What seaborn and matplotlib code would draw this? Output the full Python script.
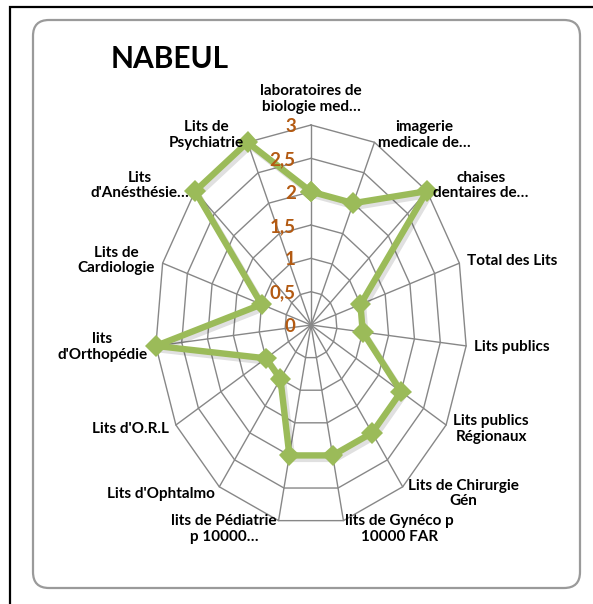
import numpy as np
import pandas as pd
import matplotlib
matplotlib.use("Agg")
import matplotlib.pyplot as plt
import matplotlib.patheffects as pe
from matplotlib.patches import FancyBboxPatch
from matplotlib import font_manager
import seaborn as sns

# Données (NABEUL)
categories = [
    "laboratoires de\nbiologie med…",
    "imagerie\nmedicale de…",
    "chaises\ndentaires de…",
    "Total des Lits",
    "Lits publics",
    "Lits publics\nRégionaux",
    "Lits de Chirurgie\nGén",
    "lits de Gynéco p\n10000 FAR",
    "lits de Pédiatrie\np 10000…",
    "Lits d'Ophtalmo",
    "Lits d'O.R.L",
    "lits\nd'Orthopédie",
    "Lits de\nCardiologie",
    "Lits\nd'Anésthésie…",
    "Lits de\nPsychiatrie",
]
valeurs = [2, 2, 3, 1, 1, 2, 2, 2, 2, 1, 1, 3, 1, 3, 3]
niveaux = [0, 0.5, 1, 1.5, 2, 2.5, 3]
etiquettes_niveaux = ["0", "0,5", "1", "1,5", "2", "2,5", "3"]
titre = "NABEUL"

sns.set_style("white")
noms = {f.name for f in font_manager.fontManager.ttflist}
police = "Lato" if "Lato" in noms else "Liberation Sans"
plt.rcParams["font.family"] = [police, "DejaVu Sans"]
plt.rcParams["text.color"] = "black"

vert = "#9BBB59"
gris = "#878787"
orange = "#B35A12"

W, H = 593, 604
fig = plt.figure(figsize=(W / 100, H / 100), dpi=100)

# cadre de fond (coordonnées en pixels)
fond = fig.add_axes([0, 0, 1, 1])
fond.set_xlim(0, W)
fond.set_ylim(H, 0)
fond.axis("off")
fond.plot([10, 10, W], [H, 7, 7], color="black", lw=1.6, solid_joinstyle="miter")
fond.add_patch(FancyBboxPatch((33, 20), 547, 568, boxstyle="round,pad=0,rounding_size=16",
                              fc="white", ec="#9a9a9a", lw=1.6))
fond.text(111, 68, titre, fontsize=21.5, fontweight="bold", va="baseline", ha="left", color="black")

# radar
n = len(categories)
theta = np.arange(n) * 2 * np.pi / n
theta_ferme = np.append(theta, 2 * np.pi)
cx, cy, rx, ry = 311, 325, 156, 200
ax = fig.add_axes([(cx - rx) / W, (H - cy - ry) / H, 2 * rx / W, 2 * ry / H], projection="polar")
ax.set_aspect("auto")
ax.set_theta_zero_location("N")
ax.set_theta_direction(-1)
ax.set_ylim(0, 3)
ax.grid(False)
ax.spines["polar"].set_visible(False)
ax.set_xticks([])
ax.set_yticks([])
ax.patch.set_visible(False)

for lv in niveaux[1:]:
    ax.plot(theta_ferme, [lv] * (n + 1), color=gris, lw=1.0, clip_on=False, zorder=1)
for t in theta:
    ax.plot([t, t], [0, 3], color=gris, lw=1.0, clip_on=False, zorder=1)

df = pd.DataFrame({"theta": theta_ferme, "valeur": valeurs + valeurs[:1]})
sns.lineplot(data=df, x="theta", y="valeur", ax=ax, sort=False, color=vert, lw=4.6,
             marker="D", markersize=11, markeredgewidth=0, zorder=3)
ligne = ax.lines[-1]
ligne.set_clip_on(False)
ligne.set_path_effects([pe.SimpleLineShadow(offset=(2, -2.5), alpha=0.12, shadow_color="black"),
                        pe.Normal()])
ax.set_xlabel("")
ax.set_ylabel("")
ax.set_ylim(0, 3)

for lv, lab in zip(niveaux, etiquettes_niveaux):
    ax.annotate(lab, xy=(0, lv), xytext=(-11, -1), textcoords="offset points",
                ha="right", va="center", fontsize=13.5, fontweight="bold", color=orange,
                annotation_clip=False)

for t, lab in zip(theta, categories):
    dx, dy = np.sin(t), np.cos(t)
    if abs(dx) < 0.1:
        ha, va = "center", "bottom"
        off = (0, 8)
    else:
        ha = "left" if dx > 0 else "right"
        va = "center"
        off = (dx * 6, dy * 6)
    ax.annotate(lab, xy=(t, 3), xytext=off, textcoords="offset points", ha=ha, va=va,
                multialignment="center", fontsize=11, fontweight="bold", color="black",
                annotation_clip=False, linespacing=1.15)

fig.savefig("out.png", dpi=100)
